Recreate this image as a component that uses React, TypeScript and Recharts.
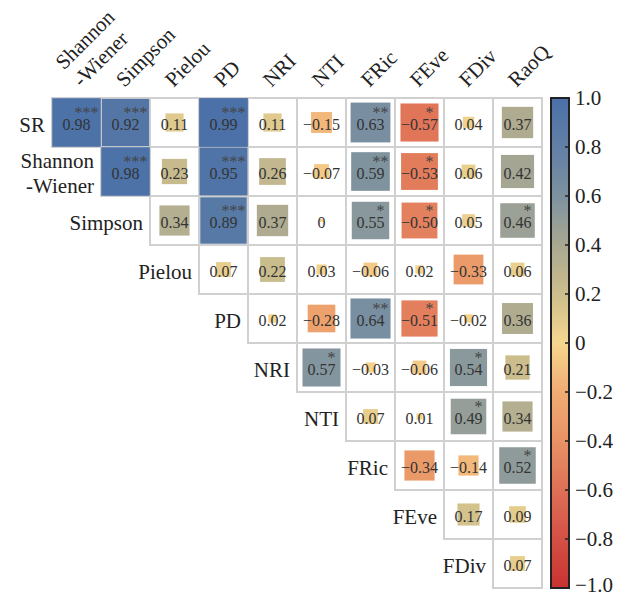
import { ScatterChart, Scatter, XAxis, YAxis, BarChart, Bar } from 'recharts';

// ── Data ────────────────────────────────────────────────────
const colLabels = [['Shannon', '-Wiener'], ['Simpson'], ['Pielou'], ['PD'], ['NRI'], ['NTI'], ['FRic'], ['FEve'], ['FDiv'], ['RaoQ']];
const rowLabels = [['SR'], ['Shannon', '-Wiener'], ['Simpson'], ['Pielou'], ['PD'], ['NRI'], ['NTI'], ['FRic'], ['FEve'], ['FDiv']];

// upper triangle: row i holds columns i..9
const corr = [
  [0.98, 0.92, 0.11, 0.99, 0.11, -0.15, 0.63, -0.57, 0.04, 0.37],
  [0.98, 0.23, 0.95, 0.26, -0.07, 0.59, -0.53, 0.06, 0.42],
  [0.34, 0.89, 0.37, 0, 0.55, -0.5, 0.05, 0.46],
  [0.07, 0.22, 0.03, -0.06, 0.02, -0.33, 0.06],
  [0.02, -0.28, 0.64, -0.51, -0.02, 0.36],
  [0.57, -0.03, -0.06, 0.54, 0.21],
  [0.07, 0.01, 0.49, 0.34],
  [-0.34, -0.14, 0.52],
  [0.17, 0.09],
  [0.07],
];

const sig = [
  ['***', '***', '', '***', '', '', '**', '*', '', ''],
  ['***', '', '***', '', '', '**', '*', '', ''],
  ['', '***', '', '', '*', '*', '', '*'],
  ['', '', '', '', '', '', ''],
  ['', '', '**', '*', '', ''],
  ['*', '', '', '*', ''],
  ['', '', '*', ''],
  ['', '', '*'],
  ['', ''],
  [''],
];

const cbTicks = [1, 0.8, 0.6, 0.4, 0.2, 0, -0.2, -0.4, -0.6, -0.8, -1];

// ── Style ───────────────────────────────────────────────────
const FONT = "'Liberation Serif', 'Times New Roman', serif";
const CELL = 49;
const PLOT_LEFT = 52;
const PLOT_TOP = 98;

const CMAP: [number, number[]][] = [
  [-1, [200, 50, 48]],
  [-0.8, [212, 80, 70]],
  [-0.6, [222, 112, 86]],
  [-0.4, [232, 146, 101]],
  [-0.2, [240, 172, 115]],
  [0, [246, 215, 142]],
  [0.2, [205, 190, 140]],
  [0.4, [168, 168, 145]],
  [0.6, [125, 146, 160]],
  [0.8, [98, 128, 165]],
  [1, [74, 112, 168]],
];

const toHex = (c: number[]) => '#' + c.map(v => Math.round(v).toString(16).padStart(2, '0')).join('');

function colorFor(v: number) {
  for (let i = 0; i < CMAP.length - 1; i++) {
    const [a, ca] = CMAP[i];
    const [b, cb] = CMAP[i + 1];
    if (v >= a && v <= b) {
      const t = (v - a) / (b - a);
      return toHex(ca.map((c, k) => c + (cb[k] - c) * t));
    }
  }
  return toHex(CMAP[CMAP.length - 1][1]);
}

const fmt = (v: number, d: number) => (v === 0 ? '0' : v.toFixed(d).replace('-', '\u2212'));

const cells = corr.flatMap((row, i) =>
  row.map((r, k) => ({ x: i + k + 0.5, y: i + 0.5, r, sig: sig[i][k] }))
);
const axisTicks = colLabels.map((_, i) => i + 0.5);

// ── Shapes ──────────────────────────────────────────────────
const CellBorder = (props: any) => {
  const { cx, cy } = props;
  return <rect x={cx - CELL / 2} y={cy - CELL / 2} width={CELL} height={CELL} fill="#fff" stroke="#d0d0d0" strokeWidth={2} />;
};

const CellMark = (props: any) => {
  const { cx, cy, payload } = props;
  const s = Math.max(3, CELL * Math.pow(Math.abs(payload.r), 0.45));
  return (
    <g>
      <rect x={cx - s / 2} y={cy - s / 2} width={s} height={s} fill={colorFor(payload.r)} />
      <text x={cx} y={cy + 7} textAnchor="middle" fontFamily={FONT} fontSize={16} fill="#333">
        {fmt(payload.r, 2)}
      </text>
      {payload.sig && (
        <text x={cx + 10} y={cy - 5} textAnchor="middle" fontFamily={FONT} fontSize={16} fill="#444">
          {payload.sig}
        </text>
      )}
    </g>
  );
};

const ColTick = (props: any) => {
  const { x, index } = props;
  const lines = colLabels[index] || [];
  const n = lines.length;
  return (
    <g>
      {lines.map((ln, k) => {
        const j = n - 1 - k;
        const ax = (n > 1 ? x + 5 : x - 1) - 17.5 * j;
        const ay = PLOT_TOP - 10 - 17.5 * j;
        return (
          <text key={k} x={ax} y={ay} transform={`rotate(-45 ${ax} ${ay})`} fontFamily={FONT} fontSize={21} fill="#222">
            {ln}
          </text>
        );
      })}
    </g>
  );
};

const RowTick = (props: any) => {
  const { y, index } = props;
  const lines = rowLabels[index] || [];
  const x = PLOT_LEFT + index * CELL - 7;
  const n = lines.length;
  return (
    <g>
      {lines.map((ln, k) => (
        <text key={k} x={x} y={y + 9 - (n - 1) * 12.5 + k * 24.5} textAnchor="end" fontFamily={FONT} fontSize={21} fill="#222">
          {ln}
        </text>
      ))}
    </g>
  );
};

const CbTick = (props: any) => {
  const { x, y, payload } = props;
  return (
    <g>
      <line x1={x - 10} x2={x - 7} y1={y} y2={y} stroke="#222" strokeWidth={1.5} />
      <text x={x} y={Math.min(y + 7, 592)} fontFamily={FONT} fontSize={21} fill="#222">
        {fmt(payload.value, payload.value === 0 ? 0 : 1)}
      </text>
    </g>
  );
};

const cbData = [{ name: 'cb', range: [-1, 1] }];

export default function App() {
  return (
    <div style={{ position: 'absolute', left: 0, top: 0, width: 627, height: 596, background: '#fff' }}>
      <ScatterChart width={627} height={596} margin={{ top: 0, left: 0, right: 85, bottom: 8 }}>
        <XAxis
          type="number" dataKey="x" orientation="top" domain={[0, 10]} ticks={axisTicks} interval={0}
          height={PLOT_TOP} axisLine={false} tickLine={false} tick={<ColTick />}
        />
        <YAxis
          type="number" dataKey="y" domain={[0, 10]} reversed ticks={axisTicks} interval={0}
          width={PLOT_LEFT} axisLine={false} tickLine={false} tick={<RowTick />}
        />
        <Scatter data={cells} shape={<CellBorder />} isAnimationActive={false} />
        <Scatter data={cells} shape={<CellMark />} isAnimationActive={false} />
      </ScatterChart>
      <div style={{ position: 'absolute', left: 547, top: 0 }}>
        <BarChart width={80} height={596} data={cbData} margin={{ top: PLOT_TOP, bottom: 8, left: 4, right: 0 }} barCategoryGap={0}>
          <defs>
            <linearGradient id="cbGrad" x1="0" y1="0" x2="0" y2="1">
              {CMAP.slice().reverse().map(([v, c]) => (
                <stop key={v} offset={`${((1 - v) / 2) * 100}%`} stopColor={toHex(c)} />
              ))}
            </linearGradient>
          </defs>
          <XAxis dataKey="name" hide />
          <YAxis
            orientation="right" domain={[-1, 1]} ticks={cbTicks} interval={0} width={58}
            axisLine={false} tickLine={false} tickSize={0} tickMargin={6} tick={<CbTick />}
          />
          <Bar dataKey="range" fill="url(#cbGrad)" stroke="#222" strokeWidth={2} isAnimationActive={false} />
        </BarChart>
      </div>
    </div>
  );
}
